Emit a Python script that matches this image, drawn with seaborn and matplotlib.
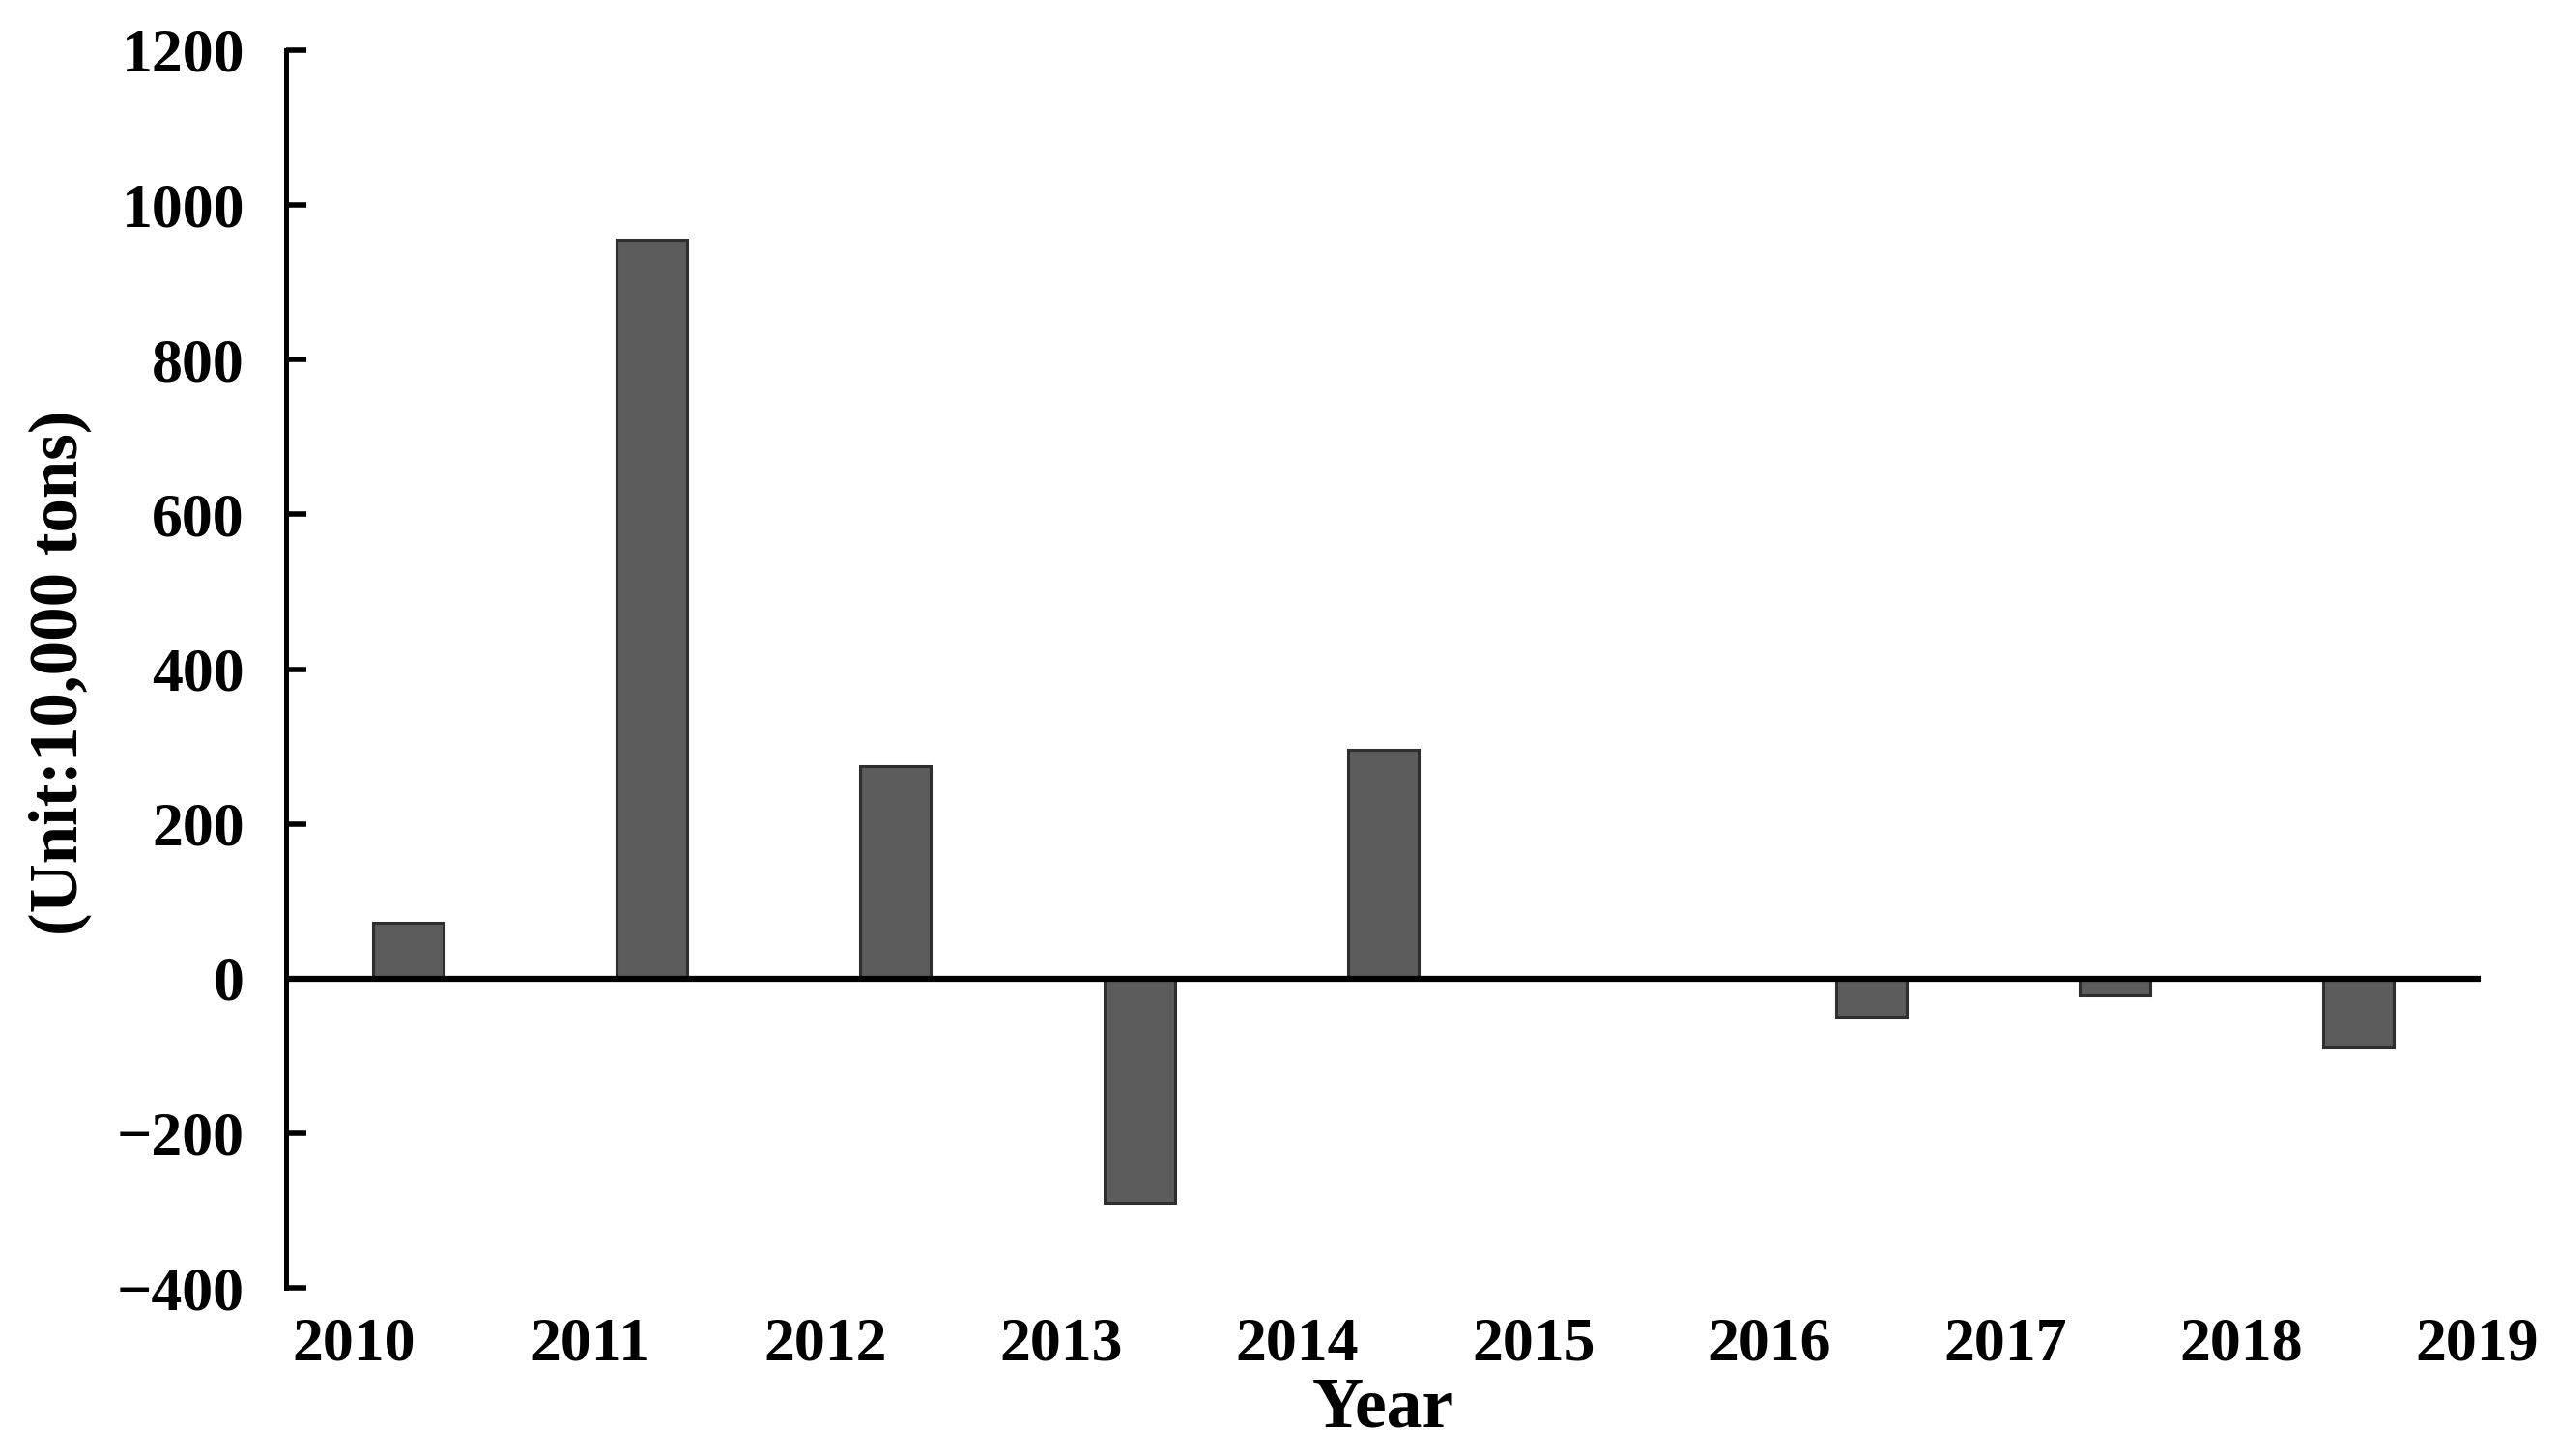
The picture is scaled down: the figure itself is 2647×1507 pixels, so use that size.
import numpy as np
import pandas as pd
import matplotlib
matplotlib.use("Agg")
import matplotlib.pyplot as plt
import seaborn as sns

# ---- data ----
bar_years = ["2010", "2011", "2012", "2013", "2014", "2015", "2016", "2017", "2018"]
bar_values = [72, 955, 275, -290, 296, 0, -50, -21, -89]
tick_labels = ["2010", "2011", "2012", "2013", "2014", "2015", "2016", "2017", "2018", "2019"]
y_ticks = [-400, -200, 0, 200, 400, 600, 800, 1000, 1200]

df = pd.DataFrame({"year": bar_years, "value": bar_values})

sns.set_theme(style="white")
plt.rcParams["font.family"] = ["Liberation Serif", "DejaVu Serif"]
plt.rcParams["font.weight"] = "bold"

fig = plt.figure(figsize=(26.47, 15.07), dpi=100)
ax = fig.add_axes([296 / 2647, 1 - 1333 / 1507, (2567 - 296) / 2647, (1333 - 52) / 1507])

sns.barplot(data=df, x="year", y="value", order=bar_years, color="#5c5c5c",
            width=0.29, edgecolor="#2e2e2e", linewidth=2.2, saturation=1, ax=ax)
for p in ax.patches:
    p.set_facecolor("#5c5c5c")

ax.set_xlim(-0.5, 8.5)
ax.set_ylim(-400, 1200)

# zero line
ax.axhline(0, color="black", linewidth=4.5, zorder=3)

# spines
for s in ["top", "right", "bottom"]:
    ax.spines[s].set_visible(False)
ax.spines["left"].set_color("black")
ax.spines["left"].set_linewidth(3.6)

ax.set_yticks(y_ticks)
ax.set_yticklabels([f"\u2212{abs(v)}" if v < 0 else str(v) for v in y_ticks])
ax.tick_params(axis="y", direction="in", length=15, width=4, color="black",
               labelsize=46, pad=31, left=True)

tick_pos = np.linspace(-0.223, 8.485, len(tick_labels))
ax.set_xticks(tick_pos)
ax.set_xticklabels(tick_labels)
ax.tick_params(axis="x", length=0, labelsize=46, pad=22, bottom=True)

for lbl in ax.get_xticklabels() + ax.get_yticklabels():
    lbl.set_fontweight("bold")
    lbl.set_color("black")

ax.set_xlabel("Year", fontsize=53, fontweight="bold", color="black", va="center")
ax.xaxis.set_label_coords(0.5, -0.0976)
ax.set_ylabel("(Unit:10,000 tons)", fontsize=51, fontweight="bold", color="black", va="center")
ax.yaxis.set_label_coords(-0.103, 0.497)

ax.grid(False)
ax.set_facecolor("white")
fig.patch.set_facecolor("white")

fig.savefig("out.png", dpi=100, facecolor="white")
